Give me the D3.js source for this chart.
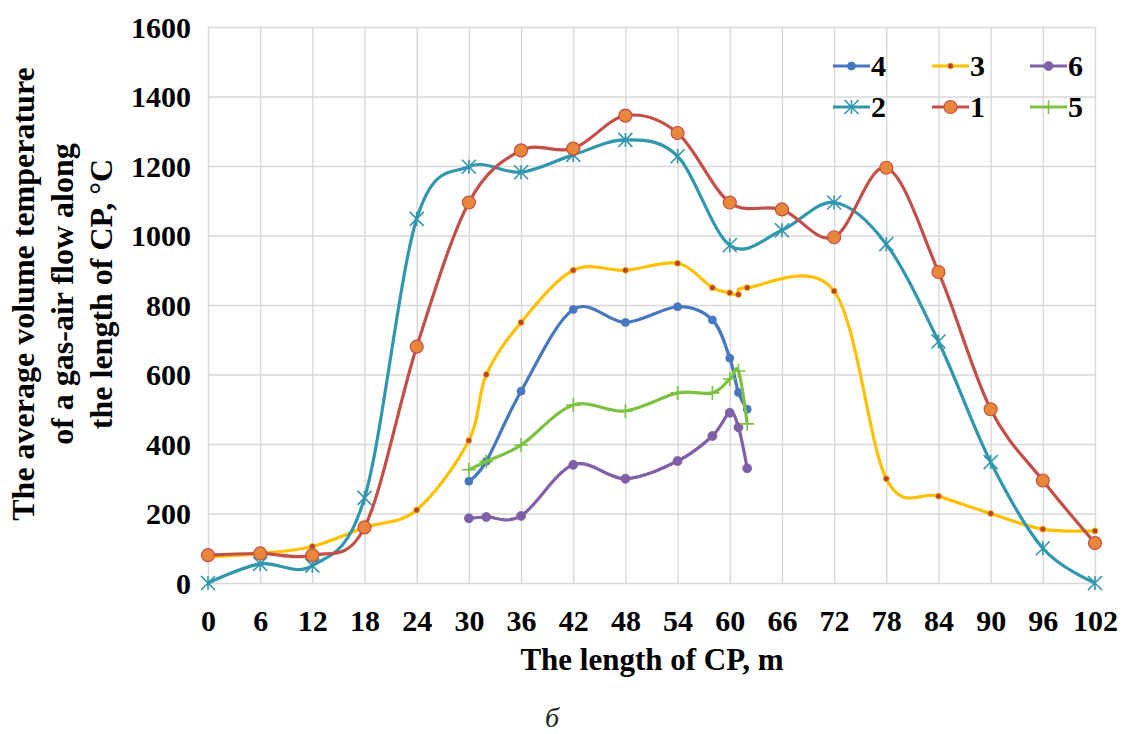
<!DOCTYPE html>
<html>
<head>
<meta charset="utf-8">
<script src="https://cdnjs.cloudflare.com/ajax/libs/d3/7.8.5/d3.min.js"></script>
<style>
  body { margin: 0; background: #fff; }
  text { font-family: "Liberation Serif", "Times New Roman", serif; }
</style>
</head>
<body>
<div id="chart"></div>
<script>
// Data
const xFull = [0, 6, 12, 18, 24, 30, 36, 42, 48, 54, 60, 66, 72, 78, 84, 90, 96, 102];
const xShort = [30, 32, 36, 42, 48, 54, 58, 60, 61, 62];
const x3 = [0, 6, 12, 18, 24, 30, 32, 36, 42, 48, 54, 58, 60, 61, 62, 72, 78, 84, 90, 96, 102];

const s1 = [80, 85, 80, 160, 680, 1095, 1245, 1250, 1345, 1295, 1095, 1075, 995, 1195, 895, 500, 295, 115];
const s2 = [0, 55, 50, 245, 1048, 1198, 1182, 1232, 1275, 1228, 972, 1015, 1095, 975, 695, 348, 100, 0];
const s3 = [75, 85, 105, 160, 210, 410, 600, 750, 900, 900, 920, 850, 835, 830, 850, 840, 300, 250, 200, 155, 150];
const s4 = [293, 350, 552, 787, 750, 795, 757, 647, 548, 500];
const s5 = [326, 350, 397, 512, 495, 547, 547, 587, 610, 458];
const s6 = [186, 190, 193, 340, 300, 351, 423, 490, 448, 330];

const xTicks = d3.range(0, 103, 6);
const yTicks = [0, 200, 400, 600, 800, 1000, 1200, 1400, 1600];

// series in Excel order (legend fills row by row)
const series = [
  {name: "4", xs: xShort, ys: s4, color: "#4677c1", marker: "dot", fill: "#4677c1", r: 4},
  {name: "3", xs: x3, ys: s3, color: "#ffc000", marker: "dot", fill: "#b8412f", r: 3},
  {name: "6", xs: xShort, ys: s6, color: "#7f5fa8", marker: "dot", fill: "#7f5fa8", r: 4.5},
  {name: "2", xs: xFull, ys: s2, color: "#2f97ae", marker: "star"},
  {name: "1", xs: xFull, ys: s1, color: "#c44f48", marker: "dot", fill: "#e8873a", r: 6.5},
  {name: "5", xs: xShort, ys: s5, color: "#7cc242", marker: "plus"}
];

const width = 1124, height = 734;
const margin = {top: 27, bottom: 151, left: 208, right: 29};
const serif = '"Liberation Serif", "Times New Roman", serif';

const svg = d3.select("#chart")
  .append("svg")
  .attr("width", width)
  .attr("height", height)
  .style("background", "#fff");

const xScale = d3.scaleLinear()
  .domain([0, 102])
  .range([margin.left, width - margin.right]);

const yScale = d3.scaleLinear()
  .domain([0, 1600])
  .range([height - margin.bottom, margin.top]);

const plotH = yScale(0) - yScale(1600);
const plotW = xScale(102) - xScale(0);

// Gridlines
const gx = svg.append("g")
  .attr("transform", `translate(0,${yScale(0)})`)
  .call(d3.axisBottom(xScale).tickValues(xTicks).tickSize(-plotH).tickFormat(""));
const gy = svg.append("g")
  .attr("transform", `translate(${xScale(0)},0)`)
  .call(d3.axisLeft(yScale).tickValues(yTicks).tickSize(-plotW).tickFormat(""));
[gx, gy].forEach(g => {
  g.select(".domain").remove();
  g.selectAll("line").attr("stroke", "#d9d9d9").attr("stroke-width", 1.4);
});

// Tick labels
const ax = svg.append("g")
  .attr("transform", `translate(0,${yScale(0)})`)
  .call(d3.axisBottom(xScale).tickValues(xTicks).tickSize(0).tickFormat(d3.format("d")));
ax.select(".domain").remove();
ax.selectAll("text")
  .attr("y", 48).attr("dy", 0)
  .style("font-size", "30px").style("font-weight", "bold")
  .style("font-family", serif).attr("fill", "#000");

const ay = svg.append("g")
  .attr("transform", `translate(${xScale(0)},0)`)
  .call(d3.axisLeft(yScale).tickValues(yTicks).tickSize(0).tickFormat(d3.format("d")));
ay.select(".domain").remove();
ay.selectAll("text")
  .attr("x", -17).attr("dy", "0.34em")
  .style("font-size", "30px").style("font-weight", "bold")
  .style("font-family", serif).attr("fill", "#000");

// Lines
const line = d3.line()
  .x(d => xScale(d[0]))
  .y(d => yScale(d[1]))
  .curve(d3.curveCardinal.tension(0));

function drawMarker(g, s, cx, cy) {
  if (s.marker === "dot") {
    g.append("circle")
      .attr("cx", cx).attr("cy", cy).attr("r", s.r)
      .attr("fill", s.fill)
      .attr("stroke", s.color).attr("stroke-width", s.r > 5 ? 1.2 : 0.8);
  } else {
    const k = 7;
    const p = s.marker === "star"
      ? `M${-k},${-k}L${k},${k}M${-k},${k}L${k},${-k}M0,${-k}L0,${k}`
      : `M${-k},0L${k},0M0,${-k}L0,${k}`;
    g.append("path")
      .attr("d", p)
      .attr("transform", `translate(${cx},${cy})`)
      .attr("fill", "none")
      .attr("stroke", s.color).attr("stroke-width", 1.6);
  }
}

series.forEach(s => {
  const pts = s.xs.map((x, i) => [x, s.ys[i]]);
  const g = svg.append("g");
  g.append("path")
    .datum(pts)
    .attr("d", line)
    .attr("fill", "none")
    .attr("stroke", s.color)
    .attr("stroke-width", 3.2)
    .attr("stroke-linejoin", "round");
  pts.forEach(p => drawMarker(g, s, xScale(p[0]), yScale(p[1])));
});

// Legend
const legCols = [833, 932, 1030];
const legRows = [66, 107];
series.forEach((s, i) => {
  const lx = legCols[i % 3], ly = legRows[Math.floor(i / 3)];
  const g = svg.append("g");
  g.append("line")
    .attr("x1", lx).attr("x2", lx + 37)
    .attr("y1", ly).attr("y2", ly)
    .attr("stroke", s.color).attr("stroke-width", 3.2);
  drawMarker(g, s, lx + 18.5, ly);
  g.append("text")
    .attr("x", lx + 38).attr("y", ly).attr("dy", "0.34em")
    .style("font-size", "30px").style("font-weight", "bold")
    .text(s.name);
});

// Axis titles
svg.append("text")
  .attr("x", 652).attr("y", 670)
  .style("text-anchor", "middle")
  .style("font-size", "31px").style("font-weight", "bold")
  .text("The length of CP, m");

const yTitle = ["The average volume temperature", "of a gas-air flow along", "the length of CP, °C"];
svg.append("g")
  .attr("transform", "translate(34,294) rotate(-90)")
  .selectAll("text")
  .data(yTitle)
  .enter().append("text")
  .attr("x", 0)
  .attr("y", (d, i) => i * 39)
  .style("text-anchor", "middle")
  .style("font-size", "32px").style("font-weight", "bold")
  .text(d => d);

svg.append("text")
  .attr("x", 552).attr("y", 727)
  .style("text-anchor", "middle")
  .style("font-size", "28px").style("font-style", "italic")
  .attr("fill", "#222")
  .text("б");
</script>
</body>
</html>
